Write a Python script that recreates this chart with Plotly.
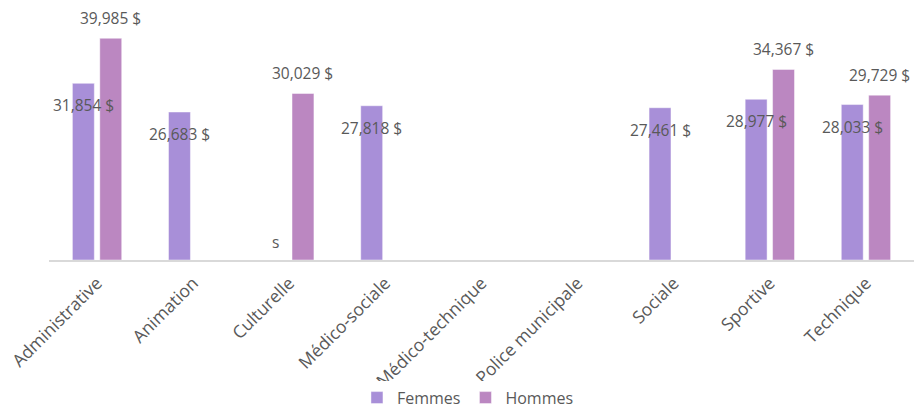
import plotly.graph_objects as go

categories = ["Administrative", "Animation", "Culturelle", "Médico-sociale",
              "Médico-technique", "Police municipale", "Sociale", "Sportive", "Technique"]
femmes = [31854, 26683, None, 27818, None, None, 27461, 28977, 28033]
hommes = [39985, None, 30029, None, None, None, None, 34367, 29729]
suppressed_femmes = ["Culturelle"]

C_F = "#A88FD8"
C_H = "#BB87C1"
TXT = "#595959"
FONT = "Open Sans"

fig = go.Figure()
fig.add_trace(go.Bar(name="Femmes", x=categories, y=femmes, marker_color=C_F,
                     marker_line=dict(color="rgba(255,255,255,0.45)", width=1)))
fig.add_trace(go.Bar(name="Hommes", x=categories, y=hommes, marker_color=C_H,
                     marker_line=dict(color="rgba(255,255,255,0.45)", width=1)))

annotations = []
for c, v in zip(categories, femmes):
    if v is not None:
        annotations.append(dict(x=c, y=v, xref="x", yref="y", text=f"{v:,} $",
                                showarrow=False, xshift=-13.7, yshift=-22,
                                font=dict(family=FONT, size=15.5, color=TXT)))
for c in suppressed_femmes:
    annotations.append(dict(x=c, y=0, xref="x", yref="y", text="s",
                            showarrow=False, xshift=-13.7, yshift=18,
                            font=dict(family=FONT, size=15.5, color=TXT)))
for c, v in zip(categories, hommes):
    if v is not None:
        annotations.append(dict(x=c, y=v, xref="x", yref="y", text=f"{v:,} $",
                                showarrow=False, xshift=13.7, yshift=20,
                                font=dict(family=FONT, size=15.5, color=TXT)))

fig.update_layout(
    width=914, height=410,
    margin=dict(l=49, r=0, t=10, b=150, autoexpand=False),
    paper_bgcolor="white", plot_bgcolor="white",
    barmode="group", bargap=0.43, bargroupgap=0.2,
    font=dict(family=FONT, color=TXT),
    annotations=annotations,
    legend=dict(orientation="h", xref="container", x=0.512, xanchor="center",
                yref="container", y=0.03, yanchor="middle", itemwidth=30,
                font=dict(family=FONT, size=16, color=TXT), traceorder="normal"),
    xaxis=dict(showline=True, linecolor="#D9D9D9", linewidth=2, ticks="",
               tickangle=-45, tickfont=dict(family=FONT, size=17.5, color=TXT),
               ticklabelstandoff=4, automargin=False),
    yaxis=dict(range=[0, 45086], visible=False, showgrid=False, zeroline=False,
               automargin=False),
)

fig.write_html("out.html", config={"displayModeBar": False},
               post_script="document.body.style.margin='0';")
